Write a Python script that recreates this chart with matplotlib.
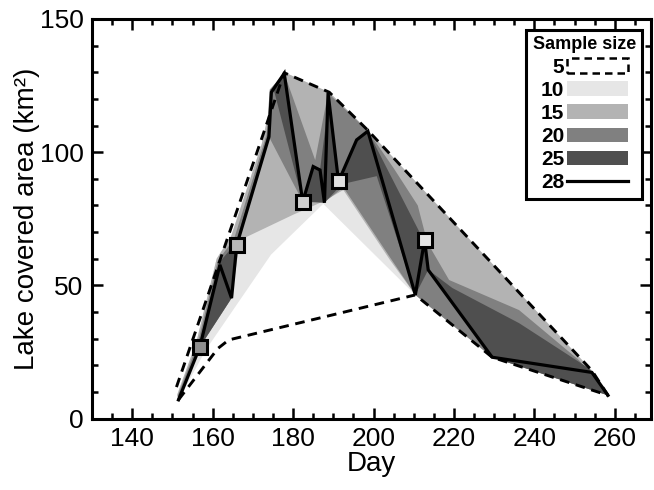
import matplotlib
matplotlib.use("Agg")
import matplotlib.pyplot as plt
from matplotlib.patches import Patch
from matplotlib.lines import Line2D
from matplotlib.ticker import MultipleLocator

plt.rcParams['font.family'] = ['Liberation Sans', 'DejaVu Sans']

# full sample (28): observation days and lake covered area
days = [151.5, 156.8, 161.8, 164.7, 166.0, 174.0, 174.6, 177.8, 182.4, 185.0,
        186.7, 187.8, 188.7, 191.3, 195.8, 198.6, 210.4, 212.7, 213.6, 229.5,
        254.3, 258.3]
area = [7, 26.8, 57.7, 45.2, 65.2, 105.8, 122.5, 129.6, 81.4, 94.6,
        93.3, 81.0, 122.2, 89, 104.6, 107.9, 46.4, 67, 55.8, 23,
        17.3, 8.7]

mark_days = [156.8, 166.0, 182.4, 191.3, 212.7]
mark_area = [26.8, 65.2, 81.4, 89, 67]

# sample size 5 envelope
env5_top_x = [151.0, 177.8, 189.0, 198.6, 254.3, 258.3]
env5_top_y = [11.8, 129.8, 122.5, 108.2, 18.0, 8.7]
env5_bot_x = [151.5, 161.3, 164.0, 210.4, 229.5, 258.3]
env5_bot_y = [7, 26.3, 29.5, 46.4, 23, 8.7]

# outer edge of the 10 and 15 ranges
outer_top_x = [151.5, 151.2, 156.0, 161.0, 164.6, 172.2, 173.8, 175.2, 177.8, 189.0,
               198.6, 254.3, 258.3]
outer_top_y = [7, 9, 29, 60, 68.5, 103, 114, 125, 130, 122.5,
               108.2, 18, 8.7]

band10_bot_x = [258.3, 229.5, 210.4, 187.5, 174.5, 158.4, 151.5]
band10_bot_y = [8.7, 23, 46.4, 80.6, 61.5, 26, 7]

band15_bot_x = [258.3, 229.5, 210.4, 204.1, 192.5, 187.5, 180.0, 166.8, 164.7, 156.8, 151.5]
band15_bot_y = [8.7, 23, 46.4, 59.5, 85.8, 81.5, 76.5, 67, 45.2, 26.8, 7]

band20_top_x = [151.5, 151.3, 156.3, 161.3, 165.3, 173.4, 174.2, 177.8, 185.5, 188.7,
                198.6, 205.0, 211.0, 213.4, 218.8, 236.2, 251.1, 258.3]
band20_top_y = [7, 8.5, 28.3, 59.3, 67.3, 106.5, 123.5, 129.6, 97, 122.2,
                108, 94, 80, 66, 52, 40.7, 21.9, 8.7]
band20_bot_x = [258.3, 229.5, 210.4, 204.1, 192.5, 187.8, 182.4, 174.0, 166.0, 164.7, 156.8, 151.5]
band20_bot_y = [8.7, 23, 46.4, 60.5, 86.8, 81.2, 81.4, 105.8, 65.2, 45.2, 26.8, 7]

band25_top_x = [151.5, 156.6, 161.6, 165.8, 173.7, 174.4, 177.8, 182.4, 185.0, 186.7,
                188.1, 188.7, 191.3, 195.8, 198.6, 205.0, 211.6, 212.7, 213.9, 219.6,
                236.2, 253.6, 258.3]
band25_top_y = [7, 27.5, 58.5, 66, 106.5, 123.0, 129.6, 81.4, 94.6, 93.3,
                110, 122.2, 89, 104.6, 107.9, 89, 69.5, 67, 55.5, 49,
                35.8, 18.8, 8.7]
band25_bot_x = [258.3, 229.5, 213.6, 210.4, 200.8, 192.2, 187.8, 182.4, 175.2, 174.6,
                174.0, 166.0, 164.7, 156.8, 151.5]
band25_bot_y = [8.7, 23, 55.8, 46.4, 91, 88, 81.0, 81.4, 123.5, 122.5,
                105.8, 65.2, 45.2, 26.8, 7]

sizes = ['5', '10', '15', '20', '25', '28']
greys = {'10': '#e6e6e6', '15': '#b3b3b3', '20': '#808080', '25': '#4f4f4f'}
marker_fills = ['#8e8e8e', '#b8b8b8', '#d0d0d0', '#e0e0e0', '#e6e6e6']

fig = plt.figure(figsize=(6.54, 4.9), dpi=100)
ax = fig.add_axes([92 / 654, 1 - 418.5 / 490, 559 / 654, 399.5 / 490])

ax.fill(outer_top_x + band10_bot_x, outer_top_y + band10_bot_y, color=greys['10'], lw=0)
ax.fill(outer_top_x + band15_bot_x, outer_top_y + band15_bot_y, color=greys['15'], lw=0)
ax.fill(band20_top_x + band20_bot_x, band20_top_y + band20_bot_y, color=greys['20'], lw=0)
ax.fill(band25_top_x + band25_bot_x, band25_top_y + band25_bot_y, color=greys['25'], lw=0)

dash = (0, (3.3, 2.3))
ax.plot(env5_top_x, env5_top_y, color='k', lw=2.1, ls=dash)
ax.plot(env5_bot_x, env5_bot_y, color='k', lw=2.1, ls=dash)
ax.plot(days, area, color='k', lw=2.3, solid_joinstyle='miter')
for x, y, c in zip(mark_days, mark_area, marker_fills):
    ax.plot(x, y, marker='s', ms=9.5, mfc=c, mec='k', mew=2.2)

ax.set_xlim(130, 269)
ax.set_ylim(0, 150)
ax.xaxis.set_major_locator(MultipleLocator(20))
ax.xaxis.set_minor_locator(MultipleLocator(5))
ax.yaxis.set_major_locator(MultipleLocator(50))
ax.yaxis.set_minor_locator(MultipleLocator(10))
ax.tick_params(which='both', direction='in', top=True, right=True, width=1.8, labelsize=19)
ax.tick_params(which='major', length=8, pad=6)
ax.tick_params(which='minor', length=4.5)
for s in ax.spines.values():
    s.set_linewidth(2.2)

ax.set_xlabel('Day', fontsize=20, labelpad=0)
ax.set_ylabel('Lake covered area (km²)', fontsize=20, labelpad=0)

handles = [Patch(facecolor='none', edgecolor='k', ls=(0, (3, 2)), lw=1.8)]
for s in sizes[1:5]:
    handles.append(Patch(facecolor=greys[s], edgecolor='none'))
handles.append(Line2D([], [], color='k', lw=2.3))
leg = ax.legend(handles, sizes, title='Sample size', loc='upper right',
                bbox_to_anchor=(0.984, 0.972), borderaxespad=0, markerfirst=False,
                prop={'weight': 'bold', 'size': 15}, handlelength=2.9, handleheight=0.7,
                handletextpad=0.15, labelspacing=0.2, borderpad=0.3,
                fancybox=False, framealpha=1, edgecolor='k')
leg.get_title().set_fontweight('bold')
leg.get_title().set_fontsize(13)
leg.get_frame().set_linewidth(2.2)

fig.savefig('out.png', dpi=100)
